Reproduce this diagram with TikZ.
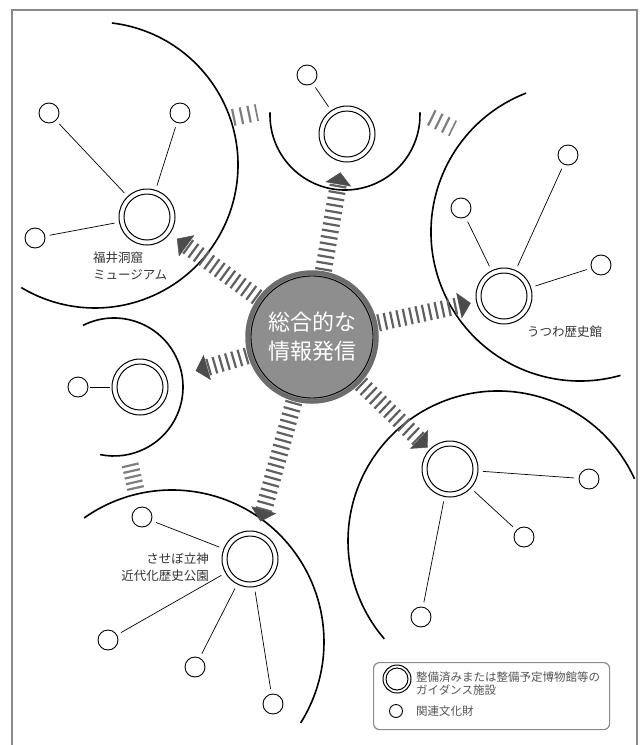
\documentclass[tikz,border=0pt]{standalone}
\usepackage{fontspec}
\setmainfont{Noto Sans CJK JP}
\usetikzlibrary{arrows.meta,calc}
\definecolor{ringgray}{HTML}{6C6C6C}
\definecolor{fillgray}{HTML}{8E8E8E}
\definecolor{stripegray}{HTML}{606060}
\definecolor{bargray}{HTML}{7E7E7E}
\definecolor{tipgray}{HTML}{4C4C4C}
\definecolor{framegray}{HTML}{8A8A8A}
\definecolor{textgray}{HTML}{333333}
\definecolor{legtext}{HTML}{555555}
\begin{document}
\begin{tikzpicture}[x=1pt,y=-1pt,
  facility/.style={circle, draw=black, line width=1pt, minimum size=56pt, inner sep=0pt, outer sep=0pt,
    path picture={\draw[black,line width=1pt] (path picture bounding box.center) circle (23pt);}},
  satellite/.style={circle, draw=black, line width=0.9pt, minimum size=20pt, inner sep=0pt, outer sep=0pt},
  centre/.style={circle, draw=ringgray, line width=4.5pt, fill=fillgray, minimum size=129pt, inner sep=0pt, outer sep=0pt,
    path picture={\draw[black,line width=0.9pt] (path picture bounding box.center) circle (61pt);},
    text=white, align=center, font=\fontsize{22pt}{29pt}\selectfont},
  link/.style={line width=0.7pt, shorten <=5pt, shorten >=5pt},
  rim/.style={line width=1.6pt, black},
  beam/.style={draw=stripegray, line width=17pt, dash pattern=on 2.2pt off 4.3pt, shorten <=3pt,
    -{Triangle[width=26pt,length=12pt,line width=0.4pt,color=tipgray,fill=tipgray]}},
  bars/.style={draw=bargray, line width=17pt, dash pattern=on 2.2pt off 5.6pt},
  lbl/.style={text=textgray, font=\fontsize{12.5pt}{17pt}\selectfont, inner sep=0pt},
  legtxt/.style={text=legtext, font=\fontsize{11.5pt}{13.5pt}\selectfont, inner sep=0pt}
]
\useasboundingbox (0,0) rectangle (642,745);
% frame
\draw[framegray, line width=1.6pt] (12,747) -- (12,10) -- (637,10) -- (637,747);

% arc centres
\coordinate (cF) at (95,165);
\coordinate (cT) at (345,115);
\coordinate (cU) at (580,232);
\coordinate (cL) at (114,387);
\coordinate (cS) at (172,642);
\coordinate (cB) at (498,541);

% arcs
\draw[rim] ($(cF)+(83.2:143pt)$) arc[start angle=83.2, end angle=-121, radius=143pt];
\draw[rim] ($(cT)+(178:75pt)$) arc[start angle=178, end angle=362, radius=75pt];
\draw[rim] ($(cU)+(111.2:149pt)$) arc[start angle=111.2, end angle=285.8, radius=149pt];
\draw[rim] ($(cL)+(116.6:69pt)$) arc[start angle=116.6, end angle=-101.6, radius=69pt];
\draw[rim] ($(cS)+(125.3:152pt)$) arc[start angle=125.3, end angle=-32.2, radius=152pt];
\draw[rim] ($(cB)+(24.5:150pt)$) arc[start angle=24.5, end angle=220.7, radius=150pt];

% bars between arcs
\coordinate (g1a) at (232.7,117.5); \coordinate (g1b) at (257.3,112.5);
\coordinate (g2a) at (430.8,117.5); \coordinate (g2b) at (453.2,128.5);
\coordinate (g3a) at (130.1,464.3); \coordinate (g3b) at (135.9,489.7);
\draw[bars] (g1a) -- (g1b);
\draw[bars] (g2a) -- (g2b);
\draw[bars, dash pattern=on 2.2pt off 3.6pt] (g3a) -- (g3b);

% facility nodes
\node[facility] (fukui) at (147,217) {};
\node[facility] (top) at (347,134) {};
\node[facility] (utsuwa) at (504,296) {};
\node[facility] (left) at (140,387) {};
\node[facility] (sasebo) at (250,559) {};
\node[facility] (br) at (450,469) {};

% satellites
\node[satellite] (f1) at (49,113) {};
\node[satellite] (f2) at (180,113) {};
\node[satellite] (f3) at (35,238) {};
\node[satellite] (t1) at (307,75) {};
\node[satellite] (u1) at (568,155) {};
\node[satellite] (u2) at (461,208) {};
\node[satellite] (u3) at (601,265) {};
\node[satellite] (l1) at (78,387) {};
\node[satellite] (s1) at (142,517) {};
\node[satellite] (s2) at (108,640) {};
\node[satellite] (s3) at (195,667) {};
\node[satellite] (s4) at (273,704) {};
\node[satellite] (b1) at (589,479) {};
\node[satellite] (b2) at (524,537) {};
\node[satellite] (b3) at (421,617) {};

\foreach \s in {f1,f2,f3} \draw[link] (\s) -- (fukui);
\draw[link] (t1) -- (top);
\foreach \s in {u1,u2,u3} \draw[link] (\s) -- (utsuwa);
\draw[link, shorten <=2pt, shorten >=2pt] (l1) -- (left);
\foreach \s in {s1,s2,s3,s4} \draw[link] (\s) -- (sasebo);
\foreach \s in {b1,b2,b3} \draw[link] (\s) -- (br);

% centre
\node[centre] (center) at (312,337) {総合的な\\情報発信};

% beams
\draw[beam, shorten >=11pt] (center) -- (top);
\draw[beam, shorten >=9pt] (center) -- (fukui);
\draw[beam, shorten >=6pt] (center) -- (utsuwa);
\draw[beam, shorten >=30pt] (center) -- (left);
\draw[beam, shorten >=11pt] (center) -- (sasebo);
\draw[beam, shorten >=3pt] (center) -- (br);

% labels
\node[lbl, anchor=west, align=left] (fukuilbl) at (93,266) {福井洞窟\\ミュージアム};
\node[lbl, anchor=west] (utsuwalbl) at (527,332) {うつわ歴史館};
\node[lbl, anchor=east, align=right] (sasebolbl) at (209,567) {させぼ立神\\近代化歴史公園};

% legend
\node[draw=framegray, rounded corners=6pt, line width=1.2pt, minimum width=236pt, minimum height=67pt, anchor=north west, inner sep=0pt] (legend) at (373,662) {};
\node[circle, draw=black, line width=1pt, minimum size=28pt, inner sep=0pt, outer sep=0pt,
  path picture={\draw[black,line width=1pt] (path picture bounding box.center) circle (11pt);}] (legfac) at (397,679) {};
\node[satellite, minimum size=13pt] (legsat) at (396,711) {};
\node[legtxt, anchor=west, align=left] (legt1) at (416,683.5) {整備済みまたは整備予定博物館等の\\ガイダンス施設};
\node[legtxt, anchor=west] (legt2) at (416,711) {関連文化財};
\end{tikzpicture}
\end{document}
